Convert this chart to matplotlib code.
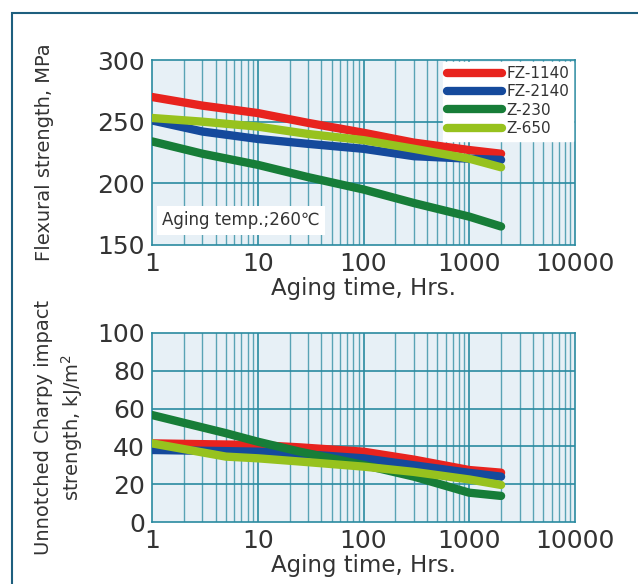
import numpy as np
from matplotlib import pyplot as plt
from matplotlib.patches import Rectangle
from matplotlib.ticker import FixedLocator, NullFormatter

# names and colours
series = ["FZ-1140", "FZ-2140", "Z-230", "Z-650"]
colors = ["#e8231e", "#154a9c", "#177d38", "#97c21e"]

# flexural strength [MPa] vs aging time [h]
flex_t = [1, 3, 10, 30, 100, 300, 1000, 2000]
flex = {
    "FZ-1140": [270, 263, 257, 249, 241, 233, 227, 224],
    "FZ-2140": [251, 242, 236, 232, 228, 222, 220, 219],
    "Z-230":   [234, 224, 215, 205, 195, 184, 173, 165],
    "Z-650":   [253, 250, 246, 240, 235, 228, 220, 213],
}

# unnotched charpy impact strength [kJ/m2] vs aging time [h]
imp_t = [1, 5, 10, 25, 100, 300, 1000, 2000]
impact = {
    "FZ-1140": [41.6, 41.0, 40.7, 39.5, 37.2, 33.0, 27.5, 26.1],
    "FZ-2140": [38.1, 37.5, 37.2, 36.0, 33.7, 30.0, 26.0, 24.0],
    "Z-230":   [56.6, 47.0, 42.5, 37.2, 30.2, 24.0, 15.5, 13.8],
    "Z-650":   [41.6, 34.6, 33.7, 32.0, 29.3, 26.5, 22.5, 19.6],
}

xticks = [1, 10, 100, 1000, 10000]
xlabels = ["1", "10", "100", "1000", "10000"]

grid_c = "#2a8aa0"
bg_c = "#e7f0f6"
txt_c = "#333333"

fig = plt.figure(figsize=(6.38, 5.84), dpi=100)
fig.patches.append(Rectangle((12/638, -0.1), 1.2, 1 - 13/584 + 0.1,
                             transform=fig.transFigure, fill=False,
                             edgecolor="#1e5f7e", lw=1.5))

ax1 = fig.add_axes([152/638, 1 - 245/584, 423/638, 185/584])
ax2 = fig.add_axes([152/638, 1 - 522/584, 423/638, 189/584])


def style(ax, ylim, yticks):
    ax.set_xscale("log")
    ax.set_xlim(1, 10000)
    ax.set_ylim(*ylim)
    ax.set_facecolor(bg_c)
    minors = [m * 10**d for d in range(4) for m in range(2, 10)]
    for x in minors:
        ax.axvline(x, color=grid_c, lw=1.0, alpha=0.75, zorder=1)
    for x in xticks[1:-1]:
        ax.axvline(x, color=grid_c, lw=1.2, zorder=1)
    for y in yticks[1:-1]:
        ax.axhline(y, color=grid_c, lw=1.2, zorder=1)
    ax.xaxis.set_major_locator(FixedLocator(xticks))
    ax.xaxis.set_minor_locator(FixedLocator(minors))
    ax.xaxis.set_minor_formatter(NullFormatter())
    ax.set_xticklabels(xlabels)
    ax.set_yticks(yticks)
    ax.tick_params(which="both", length=0, labelsize=18, colors=txt_c, pad=5)
    for s in ax.spines.values():
        s.set_color(grid_c)
        s.set_linewidth(1.2)
    ax.set_xlabel("Aging time, Hrs.", fontsize=16.5, color=txt_c, labelpad=1)


style(ax1, (150, 300), [150, 200, 250, 300])
style(ax2, (0, 100), [0, 20, 40, 60, 80, 100])

for name, c in zip(series, colors):
    ax1.plot(flex_t, flex[name], color=c, lw=6, solid_capstyle="round",
             label=name, zorder=3)
    ax2.plot(imp_t, impact[name], color=c, lw=6, solid_capstyle="round",
             zorder=3)

leg = ax1.legend(loc="upper right", fontsize=11, frameon=True, fancybox=False,
                 borderaxespad=0.1, handlelength=3.6, handletextpad=0.25,
                 labelspacing=0.22, borderpad=0.3)
leg.get_frame().set_facecolor("white")
leg.get_frame().set_edgecolor("white")
leg.get_frame().set_alpha(1)
for t in leg.get_texts():
    t.set_color(txt_c)

ax1.text(1.25, 170, "Aging temp.;260℃", fontsize=12, color=txt_c, va="center",
         zorder=4, bbox=dict(facecolor="white", edgecolor="none", pad=4))

ax1.set_ylabel("Flexural strength, MPa", fontsize=14, color=txt_c, labelpad=31)
ax2.set_ylabel("Unnotched Charpy impact\nstrength, kJ/m$^2$", fontsize=14,
               color=txt_c, labelpad=9, linespacing=1.3)

plt.savefig("out.png", dpi=100)
